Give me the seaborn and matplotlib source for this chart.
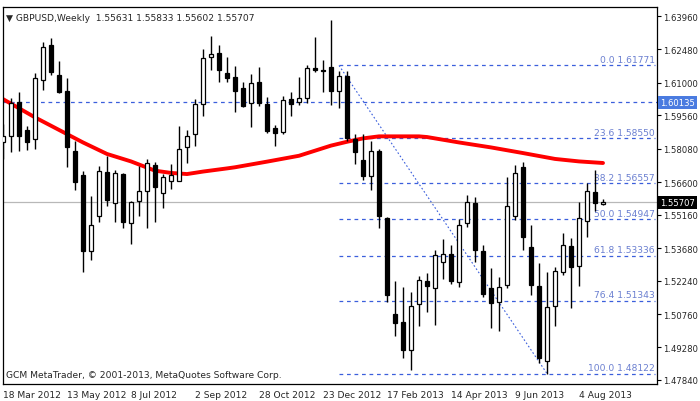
import numpy as np
import pandas as pd
import matplotlib
matplotlib.use("Agg")
import matplotlib.pyplot as plt
import seaborn as sns

# weekly GBPUSD candles, Mar 2012 .. Aug 2013
opens = [1.5837, 1.5866, 1.6014, 1.5891, 1.5851, 1.6114, 1.6268, 1.6135, 1.6064, 1.5797,
         1.5692, 1.5357, 1.5509, 1.5704, 1.5566, 1.5696, 1.5478, 1.5575, 1.5620, 1.5736,
         1.5611, 1.5667, 1.5667, 1.5814, 1.5873, 1.6008, 1.6213, 1.6232, 1.6144, 1.6124,
         1.6076, 1.6009, 1.6102, 1.6006, 1.5899, 1.5881, 1.6028, 1.6014, 1.6031, 1.6164,
         1.6157, 1.6169, 1.6065, 1.6132, 1.5851, 1.5758, 1.5689, 1.5800, 1.5501, 1.5076,
         1.5039, 1.4918, 1.5119, 1.5224, 1.5190, 1.5308, 1.5342, 1.5217, 1.5479, 1.5568,
         1.5354, 1.5190, 1.5128, 1.5205, 1.5512, 1.5726, 1.5372, 1.5199, 1.4869, 1.5113,
         1.5264, 1.5376, 1.5287, 1.5487, 1.5618, 1.55631]
highs = [1.5918, 1.6033, 1.6058, 1.5910, 1.6144, 1.6279, 1.6299, 1.6197, 1.6120, 1.5844,
         1.5711, 1.5600, 1.5733, 1.5777, 1.5715, 1.5701, 1.5575, 1.5733, 1.5763, 1.5748,
         1.5696, 1.5741, 1.5910, 1.5891, 1.6028, 1.6250, 1.6306, 1.6268, 1.6213, 1.6176,
         1.6102, 1.6139, 1.6169, 1.6036, 1.5913, 1.6043, 1.6061, 1.6124, 1.6179, 1.6305,
         1.6201, 1.6378, 1.6154, 1.6154, 1.5873, 1.5873, 1.5841, 1.5807, 1.5504, 1.5224,
         1.5194, 1.5172, 1.5246, 1.5258, 1.5361, 1.5408, 1.5382, 1.5497, 1.5605, 1.5593,
         1.5382, 1.5278, 1.5239, 1.5681, 1.5738, 1.5751, 1.5472, 1.5302, 1.5264, 1.5283,
         1.5435, 1.5413, 1.5571, 1.5655, 1.5714, 1.55833]
lows = [1.5763, 1.5795, 1.5800, 1.5804, 1.5807, 1.6070, 1.6135, 1.6055, 1.5729, 1.5627,
        1.5264, 1.5317, 1.5485, 1.5553, 1.5482, 1.5456, 1.5386, 1.5512, 1.5456, 1.5485,
        1.5544, 1.5630, 1.5674, 1.5745, 1.5822, 1.5955, 1.6158, 1.6105, 1.6105, 1.5972,
        1.5992, 1.5906, 1.5999, 1.5878, 1.5822, 1.5873, 1.5955, 1.6002, 1.6011, 1.6147,
        1.6061, 1.6002, 1.5987, 1.5844, 1.5741, 1.5670, 1.5627, 1.5457, 1.5128, 1.4980,
        1.4881, 1.4830, 1.5025, 1.5087, 1.5029, 1.5231, 1.5209, 1.5194, 1.5463, 1.5308,
        1.5153, 1.5013, 1.5002, 1.5190, 1.5494, 1.5361, 1.5162, 1.4859, 1.48122, 1.5025,
        1.5249, 1.5101, 1.5201, 1.5419, 1.5534, 1.55602]
closes = [1.5866, 1.6011, 1.5866, 1.5839, 1.6120, 1.6257, 1.6147, 1.6061, 1.5814, 1.5659,
          1.5357, 1.5470, 1.5711, 1.5583, 1.5701, 1.5482, 1.5571, 1.5620, 1.5744, 1.5640,
          1.5681, 1.5692, 1.5807, 1.5863, 1.6005, 1.6209, 1.6228, 1.6158, 1.6123, 1.6065,
          1.5999, 1.6098, 1.6011, 1.5888, 1.5878, 1.6025, 1.6008, 1.6033, 1.6164, 1.6158,
          1.6152, 1.6065, 1.6129, 1.5856, 1.5795, 1.5689, 1.5797, 1.5512, 1.5162, 1.5035,
          1.4918, 1.5110, 1.5227, 1.5202, 1.5337, 1.5342, 1.5224, 1.5470, 1.5571, 1.5361,
          1.5165, 1.5123, 1.5194, 1.5553, 1.5701, 1.5416, 1.5206, 1.4881, 1.5106, 1.5265,
          1.5382, 1.5286, 1.5500, 1.5620, 1.5566, 1.55707]

# moving average (read at sampled weeks)
ma_idx = [0, 4, 8, 10, 13, 16, 19, 21, 23, 25, 28, 29, 33, 37, 41, 43, 45, 47, 52, 53,
          57, 61, 65, 69, 72, 75]
ma_val = [1.6028, 1.5947, 1.5873, 1.5836, 1.5785, 1.5752, 1.5711, 1.5701, 1.5696, 1.5707,
          1.5721, 1.5726, 1.5751, 1.5777, 1.5822, 1.5839, 1.5854, 1.5863, 1.5863, 1.5860,
          1.5836, 1.5814, 1.5789, 1.5763, 1.5752, 1.5745]

fib_pct = ["0.0", "23.6", "38.2", "50.0", "61.8", "76.4", "100.0"]
fib_price = [1.61771, 1.58550, 1.56557, 1.54947, 1.53336, 1.51343, 1.48122]

date_labels = ["18 Mar 2012", "13 May 2012", "8 Jul 2012", "2 Sep 2012", "28 Oct 2012",
               "23 Dec 2012", "17 Feb 2013", "14 Apr 2013", "9 Jun 2013", "4 Aug 2013"]
y_ticks = [1.63960, 1.62480, 1.61000, 1.59560, 1.58080, 1.56600, 1.55160, 1.53680,
           1.52240, 1.50760, 1.49280, 1.47840]
hline_price = 1.60135
last_price = 1.55707

sns.set_style("white")
plt.rcParams['font.family'] = ['DejaVu Sans']
FS = 6.6
FSY = 6.1

df = pd.DataFrame({"o": opens, "h": highs, "l": lows, "c": closes})
df["x"] = np.arange(len(df))
up = df["c"] >= df["o"]

fig = plt.figure(figsize=(7, 4.02), dpi=100)
ax = fig.add_axes([3 / 700, 17 / 402, 654 / 700, 377 / 402])
ax.set_xlim(0, 81.75)
ax.set_ylim(1.4766, 1.6436)

# guide lines
ax.axhline(hline_price, color="#3b5fdc", lw=0.9, ls=(0, (3, 3)), zorder=1)
ax.axhline(last_price, color="#b8b8b8", lw=0.9, zorder=1)
fx0, fx1 = 42, 81.5
for pct, pr in zip(fib_pct, fib_price):
    ax.hlines(pr, fx0, fx1, color="#3b5fdc", lw=0.9, ls=(0, (3, 3)), zorder=1)
    ax.text(fx1, pr + 0.0007, f"{pct} {pr:.5f}", ha="right", va="bottom",
            fontsize=FS, color="#6a7fd0")
ax.plot([fx0, 68], [fib_price[0], fib_price[-1]], color="#3b5fdc", lw=0.8,
        ls=(0, (1.5, 2)), zorder=1)

# MA line
sns.lineplot(x=ma_idx, y=ma_val, ax=ax, color="red", lw=2.8, zorder=2)

# candles
ax.vlines(df["x"], df["l"], df["h"], color="black", lw=1, zorder=3)
body_lo = np.minimum(df["o"], df["c"])
body_h = np.maximum(np.abs(df["c"] - df["o"]), 0.0002)
ax.bar(df["x"][up], body_h[up], bottom=body_lo[up], width=0.6, color="white",
       edgecolor="black", lw=0.9, zorder=4)
ax.bar(df["x"][~up], body_h[~up], bottom=body_lo[~up], width=0.6, color="black",
       edgecolor="black", lw=0.9, zorder=4)

# axes
ax.yaxis.tick_right()
ax.set_yticks(y_ticks)
ax.set_yticklabels([f"{v:.5f}" for v in y_ticks], fontsize=FSY)
ax.set_xticks(np.arange(0, 80, 8))
ax.set_xticklabels(date_labels, fontsize=FS, ha="left")
ax.tick_params(axis="both", length=3, width=0.8, color="black", pad=1.5, direction="out")
for s in ax.spines.values():
    s.set_color("black")
    s.set_linewidth(0.9)

ax.text(82.15, hline_price, f"{hline_price:.5f}", ha="left", va="center", fontsize=FSY,
        color="white", bbox=dict(boxstyle="square,pad=0.25", fc="#4a7be0", ec="none"),
        clip_on=False)
ax.text(82.15, last_price, f"{last_price:.5f}", ha="left", va="center", fontsize=FSY,
        color="white", bbox=dict(boxstyle="square,pad=0.25", fc="black", ec="none"),
        clip_on=False)

ax.text(0.005, 0.985, "\u25BC GBPUSD,Weekly  1.55631 1.55833 1.55602 1.55707",
        transform=ax.transAxes, ha="left", va="top", fontsize=FS)
ax.text(0.005, 0.012, "GCM MetaTrader, \u00a9 2001-2013, MetaQuotes Software Corp.",
        transform=ax.transAxes, ha="left", va="bottom", fontsize=FS)

fig.savefig("out.png", dpi=100, facecolor="white")
